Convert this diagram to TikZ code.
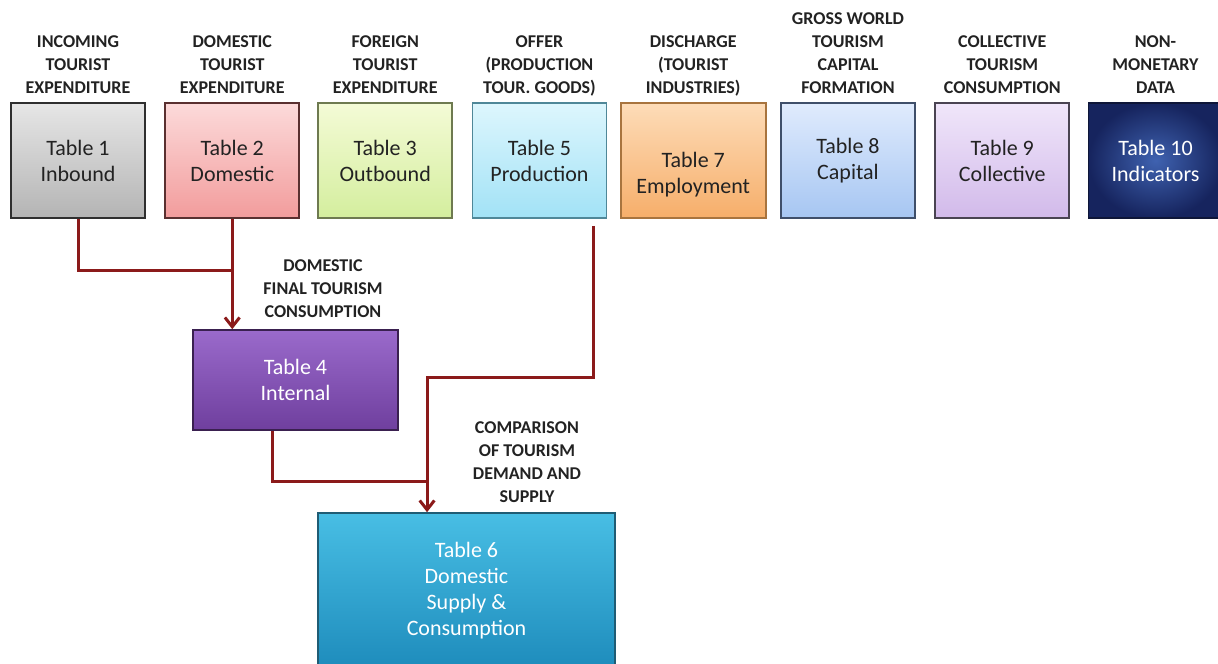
\documentclass[tikz,border=0pt]{standalone}
\usepackage{fontspec}
\setmainfont{Carlito}
\usetikzlibrary{positioning,arrows.meta}

\definecolor{linkred}{HTML}{8B1A1A}
\definecolor{textgray}{HTML}{222222}

\tikzstyle{tablebox} = [rectangle, minimum width=100.5pt, minimum height=86.25pt, align=center, line width=1.2pt, text=textgray, font=\fontsize{16.5}{19.5}\selectfont]
\tikzstyle{graybox} = [tablebox, top color={rgb,255:red,230;green,230;blue,230}, bottom color={rgb,255:red,180;green,180;blue,180}, draw={rgb,255:red,47;green,47;blue,47}]
\tikzstyle{pinkbox} = [tablebox, top color={rgb,255:red,252;green,218;blue,218}, bottom color={rgb,255:red,242;green,156;blue,156}, draw={rgb,255:red,90;green,48;blue,48}]
\tikzstyle{greenbox} = [tablebox, top color={rgb,255:red,244;green,251;blue,214}, bottom color={rgb,255:red,212;green,238;blue,158}, draw={rgb,255:red,110;green,122;blue,80}]
\tikzstyle{cyanbox} = [tablebox, top color={rgb,255:red,221;green,246;blue,253}, bottom color={rgb,255:red,162;green,226;blue,246}, draw={rgb,255:red,79;green,135;blue,152}]
\tikzstyle{orangebox} = [tablebox, minimum width=108.75pt, top color={rgb,255:red,253;green,220;blue,184}, bottom color={rgb,255:red,246;green,174;blue,106}, draw={rgb,255:red,168;green,116;blue,62}]
\tikzstyle{bluebox} = [tablebox, top color={rgb,255:red,224;green,235;blue,253}, bottom color={rgb,255:red,166;green,198;blue,242}, draw={rgb,255:red,63;green,79;blue,106}]
\tikzstyle{lilacbox} = [tablebox, top color={rgb,255:red,240;green,230;blue,250}, bottom color={rgb,255:red,210;green,186;blue,234}, draw={rgb,255:red,74;green,68;blue,82}]
\tikzstyle{navybox} = [tablebox, text=white, inner color={rgb,255:red,63;green,98;blue,176}, outer color={rgb,255:red,22;green,36;blue,94}, draw={rgb,255:red,14;green,22;blue,56}]
\tikzstyle{purplebox} = [tablebox, text=white, minimum width=153.75pt, minimum height=75pt, top color={rgb,255:red,154;green,106;blue,203}, bottom color={rgb,255:red,111;green,63;blue,158}, draw={rgb,255:red,58;green,32;blue,80}]
\tikzstyle{tealbox} = [tablebox, text=white, minimum width=222.75pt, minimum height=116.25pt, top color={rgb,255:red,72;green,190;blue,228}, bottom color={rgb,255:red,30;green,140;blue,188}, draw={rgb,255:red,31;green,92;blue,116}]
\tikzstyle{caption} = [align=center, inner sep=0pt, text=textgray, font=\bfseries\fontsize{13.5}{17.25}\selectfont, execute at end node={\strut}]
\tikzstyle{link} = [line width=2.25pt, draw=linkred]
\tikzstyle{arrow} = [link, -{Straight Barb[length=7pt,width=11pt]}]

\begin{document}
\begin{tikzpicture}[x=0.75pt, y=-0.75pt]
  \useasboundingbox (0,0) rectangle (1218,664);
  \clip (0,0) rectangle (1218,664);

  % top row of tables
  \node (t1) [graybox] at (78,160.5) {Table 1\\Inbound};
  \node (t2) [pinkbox, right=14pt of t1] {Table 2\\Domestic};
  \node (t3) [greenbox, right=13pt of t2] {Table 3\\Outbound};
  \node (t5) [cyanbox, right=14pt of t3] {Table 5\\Production};
  \node (t7) [orangebox, right=9.5pt of t5] {\strut\\Table 7\\Employment};
  \node (t8) [bluebox, right=10.25pt of t7] {Table 8\\Capital};
  \node (t9) [lilacbox, right=14pt of t8] {Table 9\\Collective};
  \node (t10) [navybox, right=13.25pt of t9] {Table 10\\Indicators};

  \node (c1) [caption, above=1.5pt of t1] {INCOMING\\TOURIST\\EXPENDITURE};
  \node (c2) [caption, above=1.5pt of t2] {DOMESTIC\\TOURIST\\EXPENDITURE};
  \node (c3) [caption, above=1.5pt of t3] {FOREIGN\\TOURIST\\EXPENDITURE};
  \node (c5) [caption, above=1.5pt of t5] {OFFER\\(PRODUCTION\\TOUR. GOODS)};
  \node (c7) [caption, above=1.5pt of t7] {DISCHARGE\\(TOURIST\\INDUSTRIES)};
  \node (c8) [caption, above=1.5pt of t8] {GROSS WORLD\\TOURISM\\CAPITAL\\FORMATION};
  \node (c9) [caption, above=1.5pt of t9] {COLLECTIVE\\TOURISM\\CONSUMPTION};
  \node (c10) [caption, above=1.5pt of t10] {NON-\\MONETARY\\DATA};

  % lower tables
  \node (t4) [purplebox] at (295.5,380) {Table 4\\Internal};
  \node (t6) [tealbox] at (466.5,590.5) {Table 6\\Domestic\\Supply \&\\Consumption};
  \node (c4) [caption] at (323,292) {DOMESTIC\\FINAL TOURISM\\CONSUMPTION};
  \node (c6) [caption] at (527,466) {COMPARISON\\OF TOURISM\\DEMAND AND\\SUPPLY};

  \draw [link] (t1.south) |- ([yshift=-39pt]t2.south);
  \draw [arrow] (t2.south) -- (t2.south |- t4.north);
  \draw [arrow] ([xshift=40.5pt,yshift=-5.25pt]t5.south) |- ([xshift=-29.6pt,yshift=101.25pt]t6.north) -- ([xshift=-29.6pt]t6.north);
  \draw [link] ([xshift=-17.6pt]t4.south) |- ([xshift=-29.6pt,yshift=23.25pt]t6.north);
\end{tikzpicture}
\end{document}
